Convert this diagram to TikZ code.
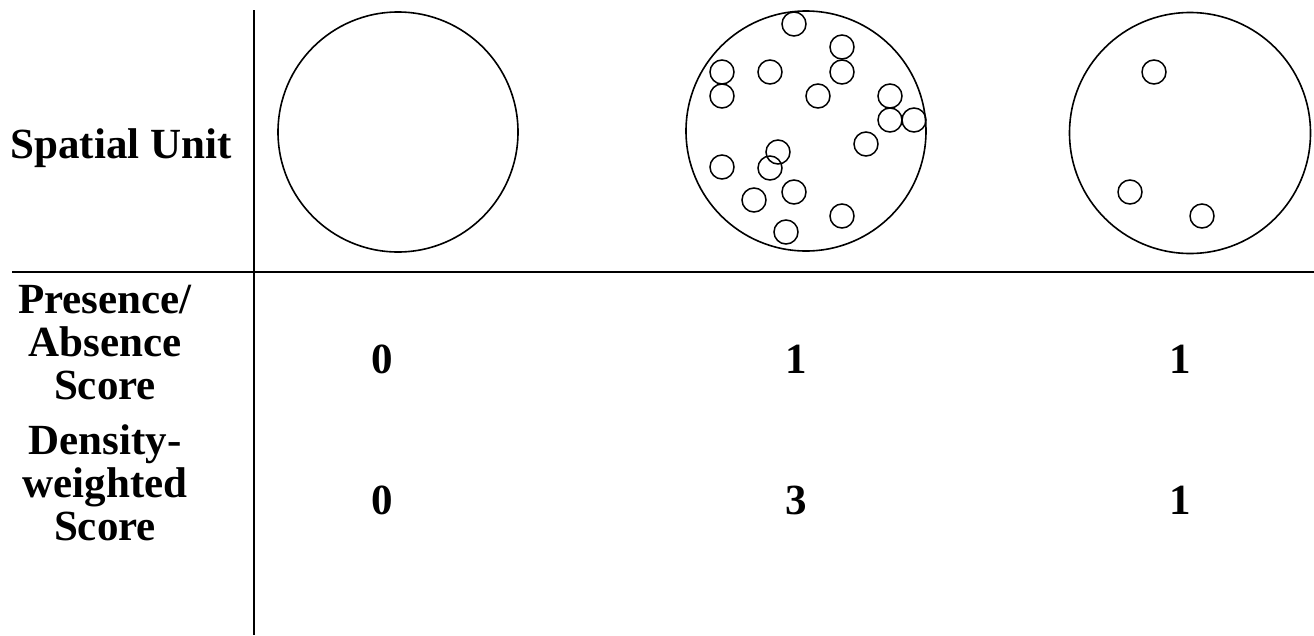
\documentclass[tikz,border=0pt]{standalone}
\usepackage{fontspec}
\setmainfont{Liberation Serif}
\begin{document}
\begin{tikzpicture}[x=1pt,y=-1pt,
  lbl/.style={font=\fontsize{43}{43}\selectfont\bfseries, align=center, inner sep=0pt},
  big/.style={line width=1.6pt},
  dot/.style={line width=1.5pt},
  rule/.style={line width=2pt}]
\useasboundingbox (0,0) rectangle (1314,635);
% grid lines
\draw[rule] (254,10) -- (254,635);
\draw[rule] (12,272) -- (1314,272);
% row labels
\node[lbl] (su) at (121,148) {Spatial Unit};
\node[lbl] (pa) at (105,343) {Presence/\\Absence\\Score};
\node[lbl] (dw) at (105,483) {Density-\\weighted\\Score};
% values
\node[lbl] (p1) at (382,359) {0};
\node[lbl] (p2) at (796,359) {1};
\node[lbl] (p3) at (1180,359) {1};
\node[lbl] (d1) at (382,500) {0};
\node[lbl] (d2) at (796,500) {3};
\node[lbl] (d3) at (1180,500) {1};
% spatial units
\draw[big] (398,132) circle (120);
\draw[big] (806,131) circle (120);
\draw[big] (1190,133) circle (120.5);
% points in unit 2
\foreach \px/\py in {794/24, 842/47, 842/72, 722/72, 722/96, 770/72, 818/96,
  890/96, 890/120, 914/120, 866/144, 778/152, 770/168, 722/167, 794/192,
  754/200, 842/216, 786/232}
  \draw[dot] (\px,\py) circle (12);
% points in unit 3
\foreach \px/\py in {1154/72, 1130/192, 1202/216}
  \draw[dot] (\px,\py) circle (12);
\end{tikzpicture}
\end{document}
